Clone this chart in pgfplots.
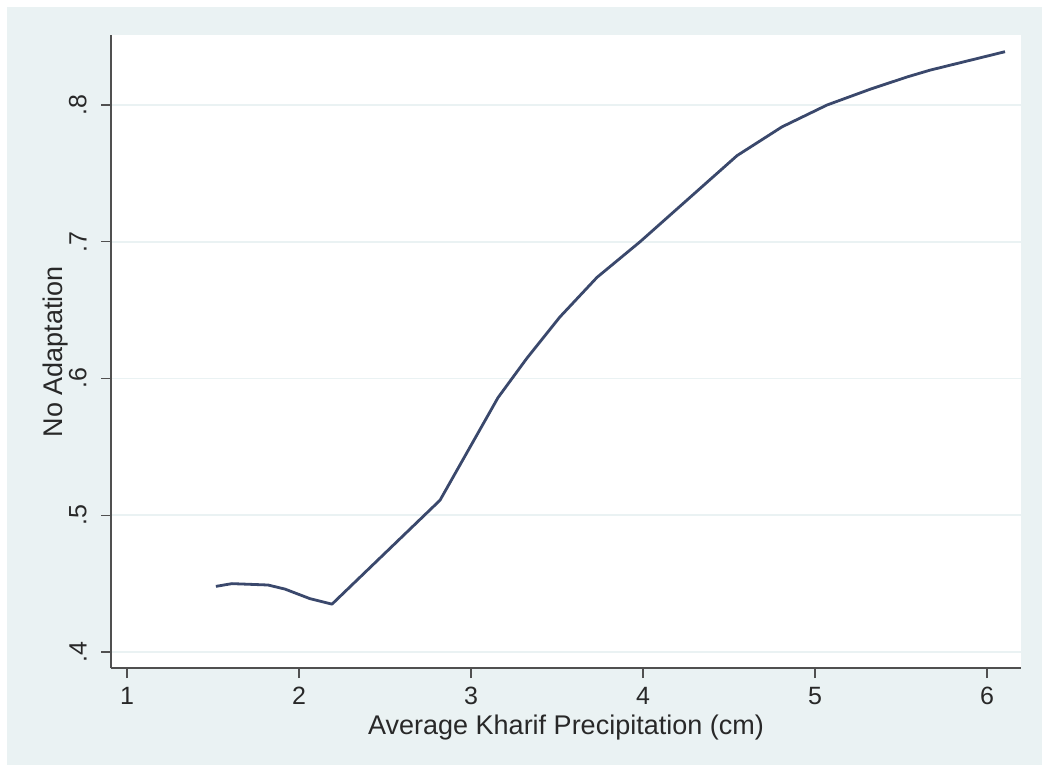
\documentclass[border=0pt]{standalone}
\usepackage{pgfplots}
\pgfplotsset{compat=1.18}
\usepackage{fontspec}
\setmainfont{Liberation Sans}
\definecolor{bgc}{RGB}{234,242,243}
\definecolor{gridc}{RGB}{234,242,243}
\definecolor{linec}{RGB}{58,72,108}
\definecolor{axc}{RGB}{80,80,80}
\definecolor{txtc}{RGB}{40,40,40}
\begin{document}
\begin{tikzpicture}[x=1pt,y=1pt]
\useasboundingbox (0,0) rectangle (521,384);
\fill[white] (0,0) rectangle (521,384);
\fill[bgc] (3.5,1.5) rectangle (521,380.5);
\begin{axis}[
  at={(55.5pt,50pt)}, anchor=south west,
  scale only axis, width=455pt, height=316.5pt,
  xmin=0.907, xmax=6.198, ymin=0.3883, ymax=0.8512,
  axis background/.style={fill=white},
  axis x line*=bottom, axis y line*=left,
  axis line style={axc, line width=0.8pt},
  xtick={1,2,3,4,5,6}, xticklabels={1,2,3,4,5,6},
  ytick={0.4,0.5,0.6,0.7,0.8}, yticklabels={.4,.5,.6,.7,.8},
  tick style={axc, line width=0.6pt},
  tick align=outside, major tick length=5pt,
  ymajorgrids, major grid style={gridc, line width=0.8pt},
  ticklabel style={font=\fontsize{12.5}{14}\selectfont, text=txtc},
  yticklabel style={rotate=90, anchor=south, inner xsep=1pt, inner ysep=7pt},
  xticklabel style={anchor=north, inner sep=2pt, yshift=-2.5pt},
  xlabel={Average Kharif Precipitation (cm)},
  ylabel={No Adaptation},
  label style={font=\fontsize{13.5}{15}\selectfont, text=txtc},
  xlabel style={at={(axis description cs:0.5,-0.094)}, anchor=center},
  ylabel style={at={(axis description cs:-0.0615,0.5)}, anchor=center},
  clip=false,
]
\addplot[linec, line width=1.4pt, line join=round] coordinates {
(1.517,0.448) (1.610,0.450) (1.820,0.449) (1.919,0.446) (2.064,0.439)
(2.192,0.435) (2.820,0.511) (3.157,0.586) (3.326,0.615) (3.517,0.645)
(3.733,0.674) (3.983,0.700) (4.547,0.763) (4.808,0.784) (5.070,0.800)
(5.320,0.8115) (5.535,0.8205) (5.669,0.8255) (6.105,0.839)
};
\end{axis}
\end{tikzpicture}
\end{document}
